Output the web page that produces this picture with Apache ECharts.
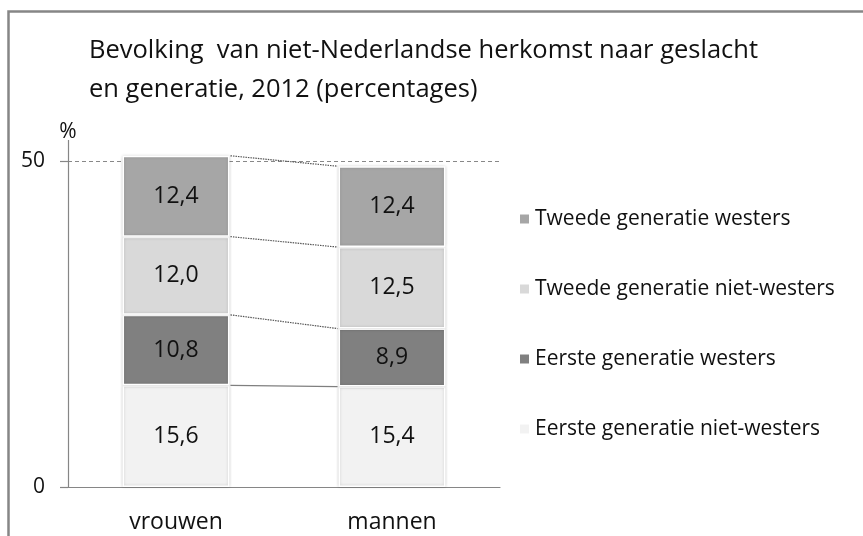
<!DOCTYPE html>
<html>
<head>
<meta charset="utf-8">
<script src="https://cdn.jsdelivr.net/npm/echarts@6/dist/echarts.min.js"></script>
<style>
html,body{margin:0;padding:0;background:#fff;}
#chart{width:863px;height:536px;}
</style>
</head>
<body>
<div id="chart"></div>
<script>
// ---- data ----
const categories = ['vrouwen', 'mannen'];
const seriesNames = ['Eerste generatie niet-westers', 'Eerste generatie westers', 'Tweede generatie niet-westers', 'Tweede generatie westers'];
const eersteNietWesters = [15.6, 15.4];
const eersteWesters = [10.8, 8.9];
const tweedeNietWesters = [12.0, 12.5];
const tweedeWesters = [12.4, 12.4];
const yTicks = [0, 50];
const titleText = 'Bevolking  van niet-Nederlandse herkomst naar geslacht\nen generatie, 2012 (percentages)';

// ---- styling ----
const colors = ['#f2f2f2', '#808080', '#d9d9d9', '#a6a6a6'];
const FONT = 'Open Sans';
const TEXT = '#111111';
const GRID_LEFT = 68, GRID_RIGHT = 363, GRID_TOP = 161, GRID_BOTTOM = 49;
const BAR_FRAC = 0.495;

const stacks = [eersteNietWesters, eersteWesters, tweedeNietWesters, tweedeWesters];

function cum(catIdx, upto) {
  let s = 0;
  for (let i = 0; i <= upto; i++) s += stacks[i][catIdx];
  return s;
}

const chart = echarts.init(document.getElementById('chart'), null, {renderer: 'canvas'});

const barSeries = seriesNames.map((name, i) => ({
  name: name,
  type: 'bar',
  stack: 'total',
  clip: false,
  barWidth: (BAR_FRAC * 100) + '%',
  data: stacks[i],
  itemStyle: {
    color: colors[i],
    borderColor: '#ffffff',
    borderWidth: 1.5,
    shadowBlur: 3,
    shadowColor: 'rgba(0,0,0,0.18)'
  },
  label: {
    show: true,
    position: 'inside',
    fontFamily: FONT,
    fontSize: 23,
    color: TEXT,
    formatter: p => p.value.toFixed(1).replace('.', ',')
  },
  emphasis: {disabled: true}
}));

const connectorSeries = {
  type: 'custom',
  coordinateSystem: 'cartesian2d',
  silent: true,
  z: 3,
  data: [[0, 0], [0, 0], [0, 0], [0, 0]],
  renderItem: function (params, api) {
    const k = params.dataIndex;
    const vTop = cum(0, k), mTop = cum(1, k);
    const a = api.coord([0, vTop]);
    const b = api.coord([1, mTop]);
    const half = api.size([1, 0])[0] * BAR_FRAC / 2;
    const dotted = k > 0;
    return {
      type: 'line',
      shape: {x1: a[0] + half + 1, y1: a[1], x2: b[0] - half - 1, y2: b[1]},
      style: {
        stroke: dotted ? '#555555' : '#7f7f7f',
        lineWidth: 1.2,
        lineDash: dotted ? [1.5, 1] : null
      }
    };
  }
};

const option = {
  animation: false,
  backgroundColor: '#ffffff',
  title: {
    text: titleText,
    left: 89,
    top: 31,
    padding: 0,
    textStyle: {fontFamily: FONT, fontSize: 25.5, fontWeight: 'normal', color: TEXT, lineHeight: 39}
  },
  legend: {
    orient: 'vertical',
    left: 518,
    top: 207,
    padding: 0,
    itemWidth: 11,
    itemHeight: 11,
    itemGap: 46,
    icon: 'rect',
    data: ['Tweede generatie westers', 'Tweede generatie niet-westers', 'Eerste generatie westers', 'Eerste generatie niet-westers'],
    textStyle: {fontFamily: FONT, fontSize: 21, color: TEXT, lineHeight: 24},
    selectedMode: false
  },
  grid: {left: GRID_LEFT, right: GRID_RIGHT, top: GRID_TOP, bottom: GRID_BOTTOM, containLabel: false},
  xAxis: {
    type: 'category',
    data: categories,
    axisLine: {show: true, lineStyle: {color: '#868686', width: 1.2}},
    axisTick: {show: false},
    axisLabel: {fontFamily: FONT, fontSize: 23, color: TEXT, margin: 24}
  },
  yAxis: {
    type: 'value',
    min: yTicks[0],
    max: yTicks[1],
    interval: yTicks[1] - yTicks[0],
    name: '%',
    nameLocation: 'end',
    nameGap: 29,
    nameTextStyle: {fontFamily: FONT, fontSize: 21, color: TEXT, align: 'center', verticalAlign: 'middle'},
    axisLine: {show: true, lineStyle: {color: '#868686', width: 1.2}},
    axisTick: {show: true, length: 8, lineStyle: {color: '#868686', width: 1.2}},
    axisLabel: {fontFamily: FONT, fontSize: 21, color: TEXT, margin: 23},
    splitLine: {show: true, showMinLine: false, lineStyle: {color: '#888888', type: [4, 3], width: 1}}
  },
  series: barSeries.concat([connectorSeries])
};

chart.setOption(option);

// decorative frame and axis-line extension above the top tick
const topPx = chart.convertToPixel({yAxisIndex: 0}, yTicks[1]);
chart.setOption({
  graphic: [
    {type: 'rect', silent: true, shape: {x: 8.5, y: 11.5, width: 1000, height: 1000},
     style: {fill: 'none', stroke: '#868686', lineWidth: 2.5}},
    {type: 'line', silent: true, shape: {x1: GRID_LEFT + 0.5, y1: topPx, x2: GRID_LEFT + 0.5, y2: topPx - 21},
     style: {stroke: '#868686', lineWidth: 1.2}}
  ]
});
</script>
</body>
</html>
